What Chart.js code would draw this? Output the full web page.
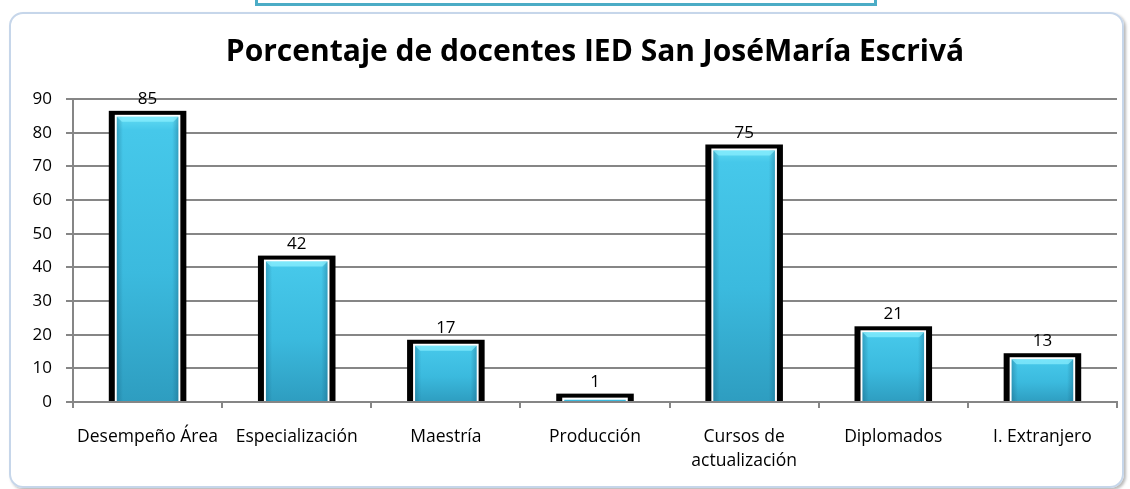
<!DOCTYPE html>
<html>
<head>
<meta charset="utf-8">
<script src="https://cdn.jsdelivr.net/npm/chart.js@4.4.1/dist/chart.umd.min.js"></script>
<style>
  html, body { margin: 0; padding: 0; background: #fff; }
  #wrap { position: relative; width: 1130px; height: 489px; overflow: hidden; }
  #topBox { position: absolute; left: 255px; top: -20px; width: 616px; height: 20px; border: 3px solid #4bacc6; }
  #frame { position: absolute; left: 9px; top: 12px; width: 1111px; height: 472px; border: 2px solid #c6d6ea; border-radius: 14px; box-shadow: 2px 2px 3px rgba(0,0,0,0.28); }
  #chart { position: absolute; left: 0; top: 0; }
</style>
</head>
<body>
<div id="wrap">
  <div id="topBox"></div>
  <div id="frame"></div>
  <canvas id="chart" width="1130" height="489"></canvas>
</div>
<script>
// Data
const categories = ["Desempeño Área", "Especialización", "Maestría", "Producción", ["Cursos de", "actualización"], "Diplomados", "I. Extranjero"];
const values = [85, 42, 17, 1, 75, 21, 13];
const yTicks = [0, 10, 20, 30, 40, 50, 60, 70, 80, 90];

const FONT = "'Open Sans', Lato, sans-serif";
const GRID = "#868686";

// Cyan fill for each bar, shaded top to bottom
function barFill(ctx) {
    const chart = ctx.chart;
    const y = chart.scales.y;
    if (!y || !chart.chartArea) return "#3dbbdf";
    const top = y.getPixelForValue(values[ctx.dataIndex]);
    const base = y.getPixelForValue(0);
    const g = chart.ctx.createLinearGradient(0, top, 0, Math.max(base, top + 1));
    g.addColorStop(0, "#62dcf3");
    g.addColorStop(0.05, "#46c8ea");
    g.addColorStop(0.55, "#3bbade");
    g.addColorStop(1, "#2e9dc0");
    return g;
}

// Black frame + white gap behind each bar, shading and value labels on top
const barDecor = {
    id: "barDecor",
    beforeDatasetsDraw(chart) {
        const c = chart.ctx;
        chart.getDatasetMeta(0).data.forEach(bar => {
            const p = bar.getProps(["x", "y", "width", "base"], true);
            const left = p.x - p.width / 2;
            const top = p.y - 5;
            c.fillStyle = "#000";
            c.fillRect(left, top, p.width, p.base - top);
            c.fillStyle = "#fff";
            c.fillRect(left + 6, top + 4, p.width - 12, p.base - top - 4);
        });
    },
    afterDatasetsDraw(chart) {
        const c = chart.ctx;
        chart.getDatasetMeta(0).data.forEach((bar, i) => {
            const p = bar.getProps(["x", "y", "width", "base"], true);
            const l = p.x - p.width / 2 + 8;
            const r = p.x + p.width / 2 - 8;
            const t = p.y + 1;
            const h = p.base - t;
            if (h > 6) {
                // side shading
                let g = c.createLinearGradient(l, 0, r, 0);
                g.addColorStop(0, "rgba(20,90,120,0.35)");
                g.addColorStop(0.1, "rgba(20,90,120,0)");
                g.addColorStop(0.9, "rgba(20,90,120,0)");
                g.addColorStop(1, "rgba(20,90,120,0.35)");
                c.fillStyle = g;
                c.fillRect(l, t, r - l, h);
                // top bevel
                c.fillStyle = "rgba(140,240,255,0.7)";
                c.beginPath();
                c.moveTo(l, t);
                c.lineTo(r, t);
                c.lineTo(r - 5, t + 5);
                c.lineTo(l + 5, t + 5);
                c.closePath();
                c.fill();
            }
            c.fillStyle = "#000";
            c.font = "17px " + FONT;
            c.textAlign = "center";
            c.textBaseline = "alphabetic";
            c.fillText(String(values[i]), p.x, p.y - 12);
        });
    }
};

new Chart(document.getElementById("chart"), {
    type: "bar",
    data: {
        labels: categories,
        datasets: [{
            data: values,
            backgroundColor: barFill,
            borderColor: "rgba(0,0,0,0)",
            borderWidth: { left: 8, right: 8, top: 1, bottom: 0 },
            borderSkipped: false,
            barPercentage: 0.52,
            categoryPercentage: 1
        }]
    },
    options: {
        responsive: false,
        devicePixelRatio: 1,
        animation: false,
        layout: { padding: { top: 14, right: 13, left: 0, bottom: 0 } },
        plugins: {
            legend: { display: false },
            tooltip: { enabled: false },
            title: {
                display: true,
                fullSize: false,
                text: "Porcentaje de docentes IED San JoséMaría Escrivá",
                color: "#000",
                font: { family: FONT, size: 30, weight: "bold" },
                padding: { top: 20, bottom: 29 }
            }
        },
        scales: {
            x: {
                grid: { drawOnChartArea: false, drawTicks: true, tickLength: 6, color: GRID, lineWidth: 2, offset: true },
                border: { display: true, color: GRID, width: 2 },
                ticks: { color: "#000", font: { family: FONT, size: 17.5, lineHeight: 1.37 }, padding: 17, maxRotation: 0, autoSkip: false },
                afterFit: s => { s.height = 87; }
            },
            y: {
                min: 0,
                max: 90,
                afterBuildTicks: s => { s.ticks = yTicks.map(v => ({ value: v })); },
                grid: { color: GRID, lineWidth: 2, tickLength: 7 },
                border: { display: true, color: GRID, width: 2 },
                ticks: { color: "#000", font: { family: FONT, size: 17 }, padding: 14 },
                afterFit: s => { s.width = 73; }
            }
        }
    },
    plugins: [barDecor]
});
</script>
</body>
</html>
